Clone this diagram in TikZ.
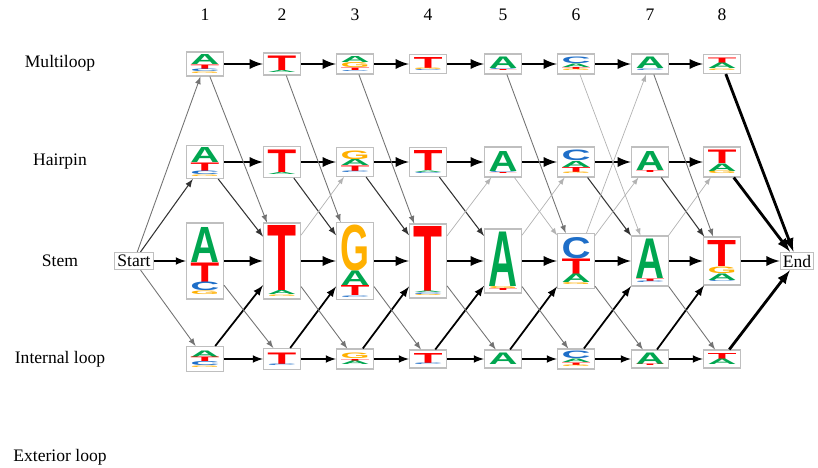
\documentclass[tikz,border=0pt]{standalone}
\usepackage{fontspec}
\setmainfont{Liberation Serif}
\newfontfamily\logofont{Liberation Sans}
\usepackage{tikz}

\definecolor{baseA}{RGB}{0,166,80}
\definecolor{baseC}{RGB}{30,110,200}
\definecolor{baseG}{RGB}{255,176,0}
\definecolor{baseT}{RGB}{255,0,0}

% one letter of a sequence logo, height in cm
\newcommand{\bA}[1]{\hbox{\color{baseA}\resizebox{5.8mm}{#1cm}{\logofont\bfseries A}}}
\newcommand{\bC}[1]{\hbox{\color{baseC}\resizebox{5.8mm}{#1cm}{\logofont\bfseries C}}}
\newcommand{\bG}[1]{\hbox{\color{baseG}\resizebox{5.8mm}{#1cm}{\logofont\bfseries G}}}
\newcommand{\bT}[1]{\hbox{\color{baseT}\resizebox{5.8mm}{#1cm}{\logofont\bfseries T}}}
\newcommand{\seqlogo}[1]{\vbox{\offinterlineskip #1}}

\tikzset{
    logo/.style={draw=black!25, line width=0.6pt, fill=white, inner sep=0pt, minimum width=7.4mm},
    endstate/.style={draw=black!25, line width=0.6pt, fill=white, inner sep=1.5pt},
    thickedge/.style={->, line width=1.6pt},
    firmedge/.style={->, line width=1pt},
    darkedge/.style={->, line width=0.6pt, black!80},
    midedge/.style={->, line width=0.5pt, black!55},
    paleedge/.style={->, line width=0.4pt, black!30},
}

\begin{document}
\begin{tikzpicture}[>=latex]
    \useasboundingbox (0,0) rectangle (16.36,-9.34);

    % Column numbers
    \foreach \i/\x in {1/4.10, 2/5.64, 3/7.10, 4/8.56, 5/10.06, 6/11.52, 7/13.00, 8/14.44} {
        \node (num\i) at (\x, -0.30) {\i};
    }

    % Row labels
    \node (lml) at (1.20, -1.27) {Multiloop};
    \node (lhp) at (1.20, -3.24) {Hairpin};
    \node (lst) at (1.20, -5.22) {Stem};
    \node (lil) at (1.20, -7.18) {Internal loop};
    \node (lex) at (1.20, -9.14) {Exterior loop};

    \node[endstate] (start) at (2.68, -5.22) {Start};
    \node[endstate] (finish) at (15.94, -5.22) {End};

    % Multiloop
    \node[logo, minimum height=0.48cm] (ml1) at (4.10, -1.28) {\seqlogo{\bA{.20}\bT{.09}\bC{.05}\bG{.03}}};
    \node[logo, minimum height=0.44cm] (ml2) at (5.64, -1.28) {\seqlogo{\bT{.29}\bA{.04}}};
    \node[logo, minimum height=0.40cm] (ml3) at (7.10, -1.28) {\seqlogo{\bA{.12}\bG{.10}\bT{.05}\bC{.02}}};
    \node[logo, minimum height=0.38cm] (ml4) at (8.56, -1.28) {\seqlogo{\bT{.22}\bG{.03}\bC{.02}}};
    \node[logo, minimum height=0.40cm] (ml5) at (10.06, -1.28) {\seqlogo{\bA{.23}\bC{.02}\bT{.02}}};
    \node[logo, minimum height=0.40cm] (ml6) at (11.52, -1.28) {\seqlogo{\bC{.13}\bA{.07}\bT{.04}\bG{.03}}};
    \node[logo, minimum height=0.40cm] (ml7) at (13.00, -1.28) {\seqlogo{\bA{.23}\bC{.03}}};
    \node[logo, minimum height=0.38cm] (ml8) at (14.44, -1.28) {\seqlogo{\bT{.11}\bA{.11}\bG{.03}}};

    % Hairpin
    \node[logo, minimum height=0.66cm] (hp1) at (4.10, -3.24) {\seqlogo{\bA{.30}\bT{.17}\bC{.07}\bG{.03}}};
    \node[logo, minimum height=0.62cm] (hp2) at (5.64, -3.24) {\seqlogo{\bT{.45}\bA{.04}}};
    \node[logo, minimum height=0.58cm] (hp3) at (7.10, -3.24) {\seqlogo{\bG{.17}\bA{.12}\bT{.11}\bC{.03}}};
    \node[logo, minimum height=0.58cm] (hp4) at (8.56, -3.24) {\seqlogo{\bT{.40}\bA{.03}\bC{.02}}};
    \node[logo, minimum height=0.60cm] (hp5) at (10.06, -3.24) {\seqlogo{\bA{.40}\bC{.02}\bT{.02}}};
    \node[logo, minimum height=0.60cm] (hp6) at (11.52, -3.24) {\seqlogo{\bC{.21}\bA{.12}\bT{.10}\bG{.03}}};
    \node[logo, minimum height=0.60cm] (hp7) at (13.00, -3.24) {\seqlogo{\bA{.38}\bT{.04}}};
    \node[logo, minimum height=0.60cm] (hp8) at (14.44, -3.24) {\seqlogo{\bT{.27}\bA{.15}\bG{.05}}};

    % Stem
    \node[logo, minimum height=1.52cm] (st1) at (4.10, -5.22) {\seqlogo{\bA{.70}\bT{.39}\bC{.17}\bG{.07}}};
    \node[logo, minimum height=1.52cm] (st2) at (5.64, -5.22) {\seqlogo{\bT{1.30}\bA{.08}\bG{.03}}};
    \node[logo, minimum height=1.54cm] (st3) at (7.10, -5.22) {\seqlogo{\bG{.91}\bA{.29}\bT{.20}\bC{.03}}};
    \node[logo, minimum height=1.48cm] (st4) at (8.56, -5.22) {\seqlogo{\bT{1.30}\bA{.03}\bC{.03}\bG{.02}}};
    \node[logo, minimum height=1.28cm] (st5) at (10.06, -5.22) {\seqlogo{\bA{1.09}\bG{.04}\bT{.04}}};
    \node[logo, minimum height=1.10cm] (st6) at (11.52, -5.22) {\seqlogo{\bC{.42}\bT{.31}\bA{.17}\bG{.04}}};
    \node[logo, minimum height=1.00cm] (st7) at (13.00, -5.22) {\seqlogo{\bA{.79}\bT{.05}\bC{.03}}};
    \node[logo, minimum height=0.96cm] (st8) at (14.44, -5.22) {\seqlogo{\bT{.52}\bG{.13}\bA{.13}\bC{.02}}};

    % Internal loop
    \node[logo, minimum height=0.50cm] (il1) at (4.10, -7.18) {\seqlogo{\bA{.13}\bT{.09}\bC{.08}\bG{.03}}};
    \node[logo, minimum height=0.42cm] (il2) at (5.64, -7.18) {\seqlogo{\bT{.23}\bC{.03}}};
    \node[logo, minimum height=0.40cm] (il3) at (7.10, -7.18) {\seqlogo{\bG{.11}\bT{.04}\bA{.07}}};
    \node[logo, minimum height=0.36cm] (il4) at (8.56, -7.18) {\seqlogo{\bT{.20}\bC{.03}}};
    \node[logo, minimum height=0.36cm] (il5) at (10.06, -7.18) {\seqlogo{\bA{.23}}};
    \node[logo, minimum height=0.40cm] (il6) at (11.52, -7.18) {\seqlogo{\bC{.15}\bA{.07}\bT{.05}\bG{.03}}};
    \node[logo, minimum height=0.36cm] (il7) at (13.00, -7.18) {\seqlogo{\bA{.23}\bT{.03}}};
    \node[logo, minimum height=0.36cm] (il8) at (14.44, -7.18) {\seqlogo{\bT{.12}\bA{.11}}};

    % Transitions along each row
    \foreach \r in {ml, hp, st} {
        \foreach \i/\j in {1/2, 2/3, 3/4, 4/5, 5/6, 6/7, 7/8} {
            \draw[thickedge] (\r\i) -- (\r\j);
        }
    }
    \foreach \i/\j in {1/2, 2/3, 3/4, 4/5, 5/6, 6/7, 7/8} {
        \draw[firmedge] (il\i) -- (il\j);
    }
    \draw[firmedge] (start) -- (st1);
    \foreach \a in {ml8, hp8, st8, il8} {
        \draw[thickedge] (\a) -- (finish);
    }

    % Transitions between rows
    \foreach \a/\b in {il1/st2, il2/st3, il3/st4, il4/st5, il5/st6, il6/st7, il7/st8} {
        \draw[firmedge] (\a) -- (\b);
    }
    \foreach \a/\b in {start/hp1, hp1/st2, hp2/st3, hp3/st4, hp4/st5, hp6/st7, hp7/st8} {
        \draw[darkedge] (\a) -- (\b);
    }
    \foreach \a/\b in {start/ml1, start/il1, ml1/st2, ml2/st3, ml3/st4, ml5/st6, ml7/st8,
                       st1/il2, st2/il3, st3/il4, st4/il5, st5/il6, st6/il7, st7/il8} {
        \draw[midedge] (\a) -- (\b);
    }
    \foreach \a/\b in {st2/hp3, st4/hp5, hp5/st6, st5/hp6, ml6/st7, st6/ml7, st6/hp7, st7/hp8} {
        \draw[paleedge] (\a) -- (\b);
    }
\end{tikzpicture}
\end{document}
